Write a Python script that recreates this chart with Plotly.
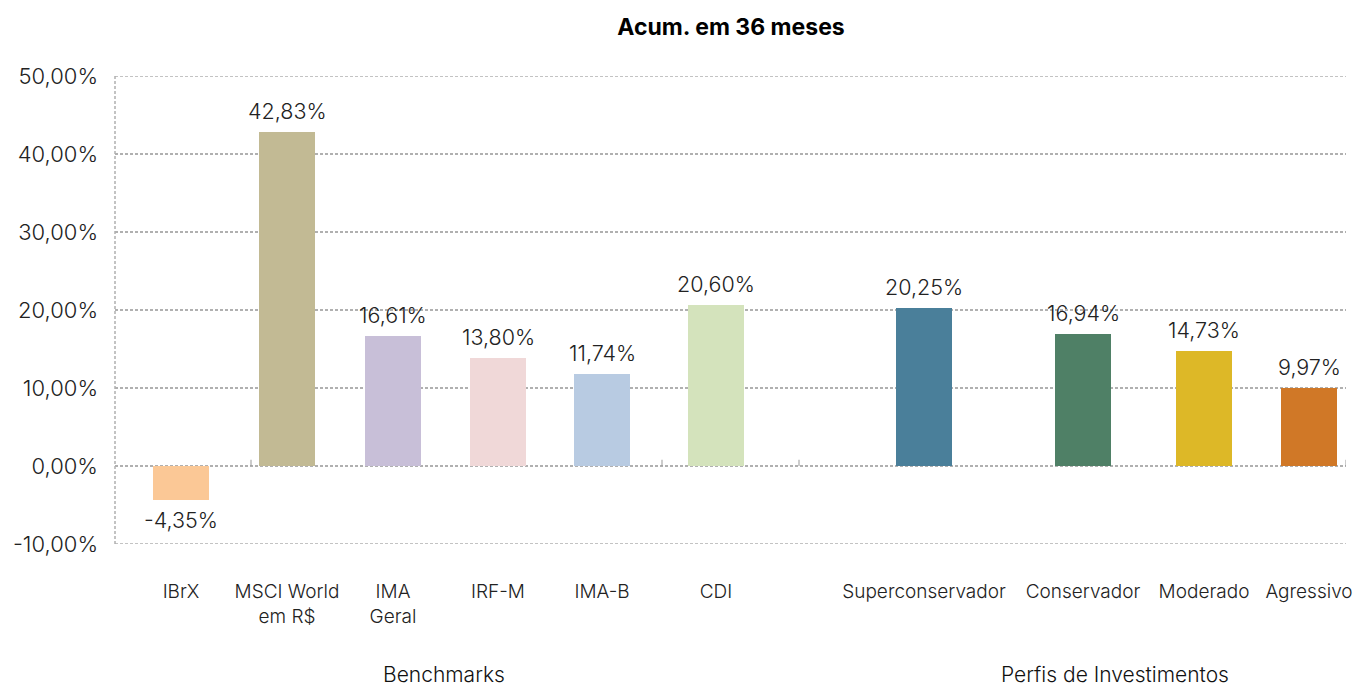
import plotly.graph_objects as go

categories = ["IBrX", "MSCI World<br>em R$", "IMA<br>Geral", "IRF-M", "IMA-B", "CDI",
              "Superconservador", "Conservador", "Moderado", "Agressivo"]
values = [-4.35, 42.83, 16.61, 13.80, 11.74, 20.60, 20.25, 16.94, 14.73, 9.97]
y_ticks = [-10, 0, 10, 20, 30, 40, 50]
groups = ["Benchmarks", "Perfis de Investimentos"]

# layout: category centres (uneven spacing as in the reference), in pixel-like units
x_pos = [181, 287, 393, 498, 602, 716, 924, 1083, 1204, 1309]
colors = ["#FBC896", "#C2BA94", "#C8BFD8", "#F0D8D8", "#B8CBE2", "#D4E3BC",
          "#4A7F9A", "#4F8066", "#DDB827", "#D07827"]

def fmt(v):
    return f"{v:.2f}".replace(".", ",") + "%"

FONT = "Inter, Liberation Sans, Arial, sans-serif"
GRID = "#B0B0B0"
DASH = "3px,2px"

fig = go.Figure()
fig.add_trace(go.Bar(
    x=x_pos, y=values, width=56, marker=dict(color=colors, line=dict(width=0)),
    hoverinfo="skip", showlegend=False,
))

annotations = []
for x, v in zip(x_pos, values):
    annotations.append(dict(
        x=x, y=v, xref="x", yref="y", text=fmt(v), showarrow=False,
        yanchor="bottom" if v >= 0 else "top", yshift=6 if v >= 0 else -5,
        font=dict(family=FONT, size=21.5, color="#222222", weight=300),
    ))
annotations.append(dict(x=444, y=-0.2778, xref="x", yref="paper", yanchor="middle",
                        text=groups[0], showarrow=False,
                        font=dict(family=FONT, size=21, color="#111111", weight=300)))
annotations.append(dict(x=1115, y=-0.2778, xref="x", yref="paper", yanchor="middle",
                        text=groups[1], showarrow=False,
                        font=dict(family=FONT, size=21, color="#111111", weight=300)))

shapes = []
for tx in [251, 662, 799, 1346]:
    shapes.append(dict(type="line", xref="x", yref="y", x0=tx, x1=tx, y0=0, y1=0.8,
                       line=dict(color="#999999", width=1)))
for yv in [y_ticks[0], y_ticks[-1]]:
    shapes.append(dict(type="line", xref="paper", yref="y", x0=0, x1=1, y0=yv, y1=yv,
                       layer="below", line=dict(color=GRID, width=1.5, dash=DASH)))
shapes.append(dict(type="line", xref="paper", yref="paper", x0=0, x1=0, y0=0, y1=1,
                   layer="below", line=dict(color=GRID, width=1.5, dash=DASH)))

fig.update_layout(
    width=1355, height=688,
    margin=dict(l=115, r=9, t=76, b=144, autoexpand=False),
    paper_bgcolor="white", plot_bgcolor="white",
    title=dict(text="<b>Acum. em 36 meses</b>", x=731 / 1355, xanchor="center",
               xref="container", y=1 - 27 / 688, yanchor="middle",
               font=dict(family=FONT, size=23, color="#000000")),
    xaxis=dict(range=[115, 1346], tickvals=x_pos, ticktext=categories,
               showgrid=False, zeroline=False, showline=False, automargin=False,
               ticks="", ticklabelstandoff=34,
               tickfont=dict(family=FONT, size=19, color="#222222", weight=300)),
    yaxis=dict(range=[-10, 50], tickvals=y_ticks,
               ticktext=[fmt(t) for t in y_ticks],
               showgrid=True, gridcolor=GRID, griddash=DASH, gridwidth=1.5,
               zeroline=False, showline=False, automargin=False,
               ticks="", ticklabelstandoff=16,
               tickfont=dict(family=FONT, size=22, color="#222222", weight=300)),
    annotations=annotations, shapes=shapes,
    bargap=0,
)

fig.write_html("out.html")
